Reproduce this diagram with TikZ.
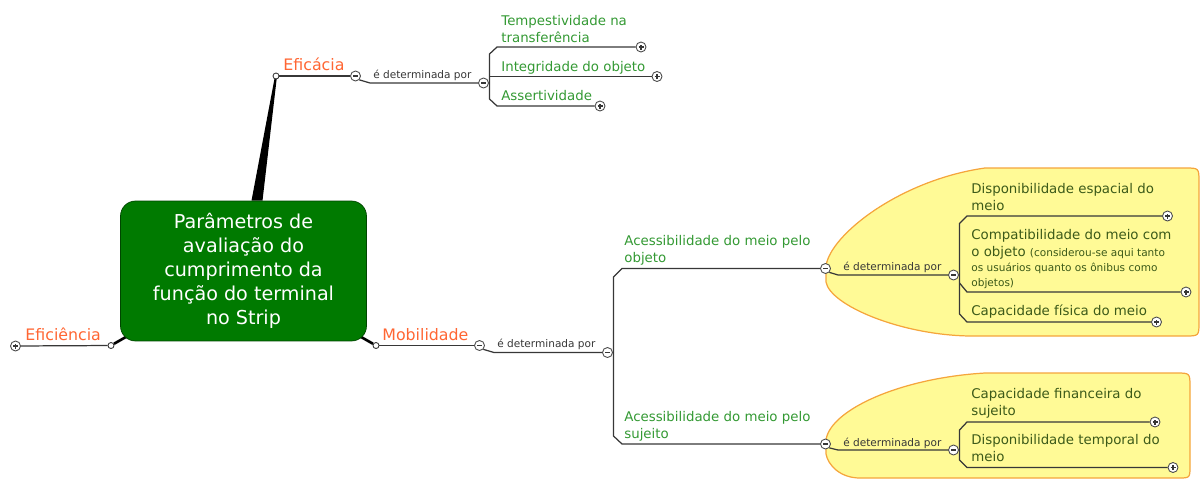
\documentclass[tikz,border=0pt]{standalone}
\usepackage{fontspec}
\setmainfont{DejaVu Sans}
\usepackage{tikz}
\definecolor{rootgreen}{RGB}{0,122,0}
\definecolor{rootedge}{RGB}{0,70,0}
\definecolor{orangetopic}{RGB}{255,102,51}
\definecolor{branchgreen}{RGB}{51,153,51}
\definecolor{leafgreen}{RGB}{60,90,25}
\definecolor{wire}{RGB}{55,55,55}
\definecolor{cloudfill}{RGB}{255,250,150}
\definecolor{cloudedge}{RGB}{245,165,60}
\usetikzlibrary{positioning,backgrounds,calc}
\newcommand*{\notefont}{\fontsize{6}{8.5}\selectfont}
\tikzset{%
  rootbox/.style={draw=rootedge, fill=rootgreen, rounded corners=0.3cm,
    minimum width=4.92cm, minimum height=2.8cm, text=white, align=center,
    font=\fontsize{10.9}{13.6}\selectfont},% central topic
  topic/.style={anchor=base west, inner sep=0pt, text=orangetopic,
    font=\fontsize{9}{11}\selectfont},% main topics
  branch/.style={anchor=base west, inner sep=0pt, align=left, text=branchgreen,
    font=\fontsize{7.6}{9.6}\selectfont},% sub topics (base = last line)
  leaf/.style={branch, text=leafgreen},% sub topics in callouts
  relation/.style={anchor=base west, inner sep=0pt, text=wire,
    font=\fontsize{6}{8}\selectfont},% relation labels
  link/.style={draw=wire, line width=0.7pt},% connectors
  stem/.style={draw=black, line width=1.5pt},% connectors to root
  cloudbox/.style={fill=cloudfill, draw=cloudedge, line width=0.7pt},% callouts
  dot/.style={circle, draw=wire, fill=white, line width=0.5pt,
    minimum size=0.12cm, inner sep=0pt},
  btn/.style={circle, draw=wire!90, fill=white, line width=0.5pt,
    minimum size=0.2cm, inner sep=0pt},
  minusbtn/.style={btn, path picture={
    \draw[wire, line width=0.6pt] ([xshift=-0.05cm]path picture bounding box.center)
      -- ([xshift=0.05cm]path picture bounding box.center);}},
  plusbtn/.style={btn, path picture={
    \draw[wire, line width=0.6pt] ([xshift=-0.05cm]path picture bounding box.center)
      -- ([xshift=0.05cm]path picture bounding box.center)
      ([yshift=-0.05cm]path picture bounding box.center)
      -- ([yshift=0.05cm]path picture bounding box.center);}}
}

\begin{document}
\begin{tikzpicture}[x=0.02cm,y=-0.02cm]
\useasboundingbox (0,0) rectangle (1201,481);

% callouts
\path[cloudbox] (826,266) .. controls (830,235) and (900,180) .. (985,168)
  -- (1185,168) .. controls (1199,168) .. (1199,182) -- (1199,322)
  .. controls (1199,336) .. (1185,336) -- (970,336)
  .. controls (900,335) and (830,305) .. (826,282) -- cycle;
\path[cloudbox] (826,440) .. controls (830,410) and (900,378) .. (985,373)
  -- (1176,373) .. controls (1190,373) .. (1190,387) -- (1190,466)
  .. controls (1190,478) .. (1178,478) -- (860,478)
  .. controls (840,478) and (828,465) .. (826,454) -- cycle;

\node[rootbox] (root) at (243.5,271) {Parâmetros de\\avaliação do\\cumprimento da\\função do terminal\\no Strip};

% Eficacia
\node[dot] (d1) at (276,76) {};
\node[topic] (eficacia) at (283,70) {Eficácia};
\node[minusbtn] (m1) at (355.5,76) {};
\node[relation] (r1) at (373,78.3) {é determinada por};
\node[minusbtn] (m2) at (483.5,83) {};
\node[branch] (tempest) at (501,42.3) {Tempestividade na\\transferência};
\node[plusbtn] (p1) at (641,47) {};
\node[branch] (integr) at (501,71.5) {Integridade do objeto};
\node[plusbtn] (p2) at (657,76.5) {};
\node[branch] (assert) at (501,100) {Assertividade};
\node[plusbtn] (p3) at (600,106) {};
\draw[link] (d1) -- (m1);
\draw[link] (m1.south east) -- (370,83) -- (m2);
\draw[link] (p1) -- (497,47) -- (489.5,54) -- (489.5,99) -- (497,106) -- (p3);
\draw[link] (489.5,76.5) -- (p2);

% Eficiencia
\node[dot] (d2) at (111,345.5) {};
\node[topic] (eficiencia) at (25,340) {Eficiência};
\node[plusbtn] (p0) at (15.5,346) {};
\draw[link] (p0) -- (d2);

% Mobilidade
\node[dot] (d3) at (376,345.5) {};
\node[topic] (mobil) at (382,340) {Mobilidade};
\node[minusbtn] (m3) at (479.5,345.5) {};
\node[relation] (r2) at (497,347.7) {é determinada por};
\node[minusbtn] (m4) at (607.5,352.5) {};
\draw[link] (d3) -- (m3);
\draw[link] (m3.south east) -- (494,352.5) -- (m4);

\node[branch] (acobj) at (624,262.7) {Acessibilidade do meio pelo\\objeto};
\node[minusbtn] (m5) at (825.5,268.5) {};
\node[branch] (acsuj) at (624,438.3) {Acessibilidade do meio pelo\\sujeito};
\node[minusbtn] (m6) at (825.5,444) {};
\draw[link] (m5) -- (622,268.5) -- (613.5,277) -- (613.5,436) -- (622,444) -- (m6);

% objeto
\node[relation] (r3) at (843,270.7) {é determinada por};
\node[minusbtn] (m7) at (953.5,275) {};
\draw[link] (m5.south east) -- (838,275) -- (m7);
\node[leaf] (dispesp) at (971,210) {Disponibilidade espacial do\\meio};
\node[plusbtn] (p4) at (1167.5,216) {};
\node[leaf] (compat) at (971,286) {Compatibilidade do meio com\\o objeto \notefont(considerou-se aqui tanto\\[-1.1pt]\notefont os usuários quanto os ônibus como\\[-1.5pt]\notefont objetos)};
\node[plusbtn] (p5) at (1186,292) {};
\node[leaf] (capfis) at (971,315) {Capacidade física do meio};
\node[plusbtn] (p6) at (1156.5,322) {};
\draw[link] (p4) -- (967,216) -- (959.5,223.5) -- (959.5,314) -- (967,322) -- (p6);
\draw[link] (959.5,283) -- (967,292) -- (p5);

% sujeito
\node[relation] (r4) at (843,446.7) {é determinada por};
\node[minusbtn] (m8) at (953.5,450) {};
\draw[link] (m6.south east) -- (838,450) -- (m8);
\node[leaf] (capfin) at (971,415) {Capacidade financeira do\\sujeito};
\node[plusbtn] (p7) at (1155,422) {};
\node[leaf] (disptemp) at (971,461.7) {Disponibilidade temporal do\\meio};
\node[plusbtn] (p8) at (1173,467.5) {};
\draw[link] (p7) -- (967,422) -- (959.5,430) -- (959.5,460) -- (967,467.5) -- (p8);

\begin{scope}[on background layer]
\fill ([xshift=0.16cm]root.north) -- ([xshift=0.38cm]root.north)
  -- ([xshift=0.02cm]d1.center) -- ([xshift=-0.02cm]d1.center) -- cycle;
\draw[stem] (d2) -- ([xshift=0.4cm,yshift=0.25cm]root.south west);
\draw[stem] (d3) -- ([xshift=-0.4cm,yshift=0.25cm]root.south east);
\end{scope}
\end{tikzpicture}
\end{document}
